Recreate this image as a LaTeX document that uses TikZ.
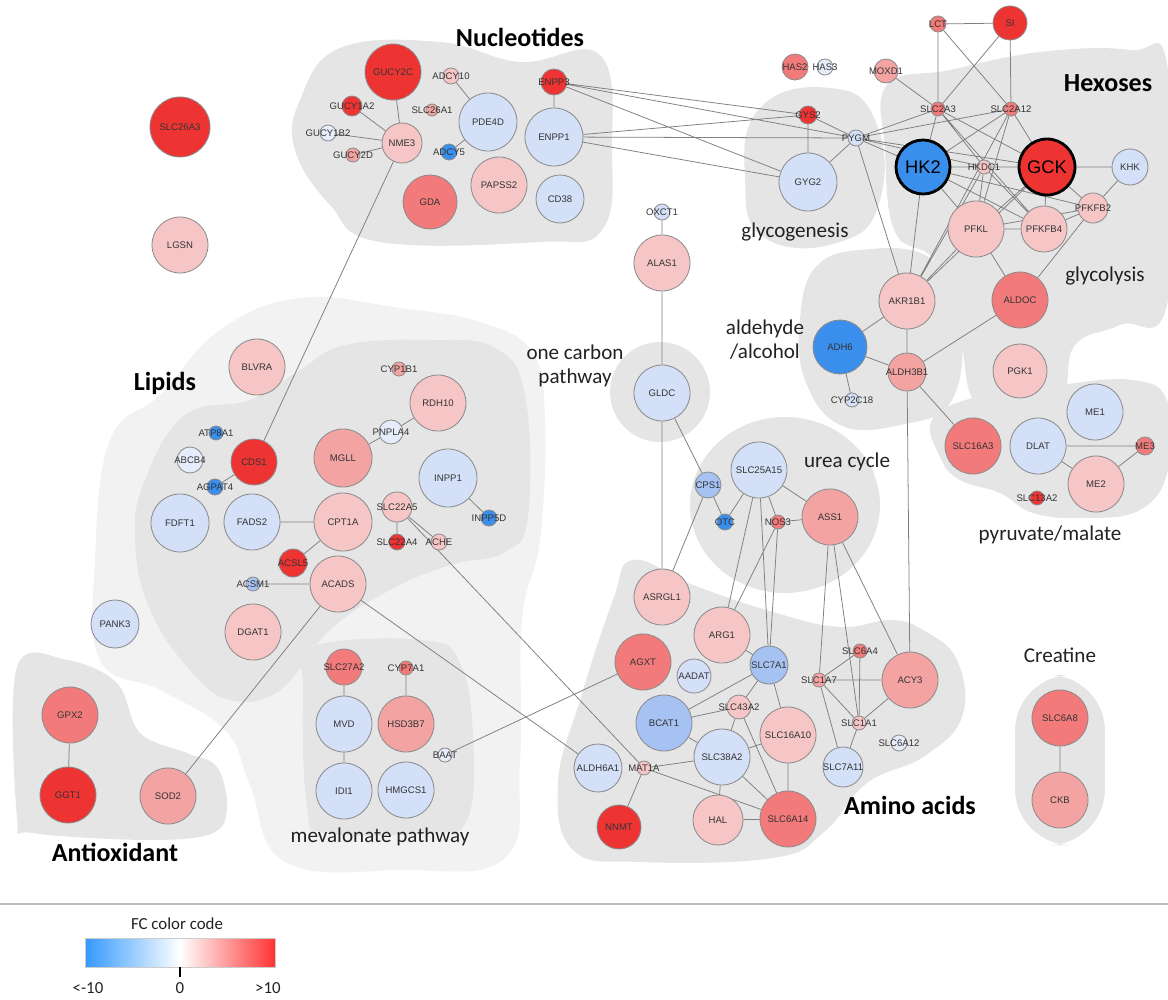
\documentclass[tikz,border=0pt]{standalone}
\usepackage{fontspec}
\setmainfont{Carlito}
\newfontfamily\genefont{Liberation Sans}
\usetikzlibrary{positioning, backgrounds}
\definecolor{upS}{HTML}{EE3333}
\definecolor{upM}{HTML}{F27A7A}
\definecolor{upML}{HTML}{F4A3A3}
\definecolor{upL}{HTML}{F6C6C6}
\definecolor{dnL}{HTML}{D4E0F7}
\definecolor{dnVL}{HTML}{E6EDFA}
\definecolor{dnM}{HTML}{A6C2F2}
\definecolor{dnS}{HTML}{3A8EEC}
\definecolor{blobGray}{HTML}{E5E5E5}
\definecolor{blobLight}{HTML}{F2F2F2}
\definecolor{legBlue}{HTML}{3399FF}
\definecolor{legRed}{HTML}{FF3333}
\definecolor{textDark}{HTML}{222222}
\pgfdeclarelayer{blobs}
\pgfdeclarelayer{links}
\pgfsetlayers{blobs,links,main}

\begin{document}
\begin{tikzpicture}[
    x=0.025cm, y=-0.025cm,
    gene/.style 2 args={circle, draw=black!45, line width=0.6pt, fill=#1,
                        minimum size=#2*0.5mm, inner sep=0pt, text=black!80,
                        font=\genefont\fontsize{6.8}{7}\selectfont,
                        execute at begin node={\hbox to 0pt\bgroup\hss},
                        execute at end node={\hss\egroup}},
    hub/.style={draw=black, line width=2pt, font=\genefont\fontsize{13}{14}\selectfont, text=black},
    edge/.style={draw=black!50, line width=0.55pt},
    blob/.style={fill=#1, draw=none},
    group/.style={font=\bfseries\fontsize{18.5}{20}\selectfont, text=black},
    path/.style={font=\fontsize{15}{17}\selectfont, text=textDark, align=center},
  ]
  \useasboundingbox (0,0) rectangle (1168,999);

  % grey areas behind the groups
  \begin{pgfonlayer}{blobs}
    \path[blob=blobLight] plot[smooth cycle, tension=0.7] coordinates {
      (110,440) (160,395) (220,330) (300,298) (400,308) (480,322) (532,352)
      (545,420) (540,540) (522,620) (520,760) (505,858) (400,870) (285,862)
      (250,785) (225,730) (160,690) (100,660) (95,560)};
    \path[blob=blobGray] plot[smooth cycle, tension=0.7] coordinates {
      (145,480) (185,415) (250,400) (300,370) (345,345) (430,340) (495,348)
      (525,395) (528,515) (505,552) (450,565) (390,590) (330,630) (280,690)
      (230,700) (190,670) (150,610) (135,540)};
    \path[blob=blobGray] plot[smooth cycle, tension=0.7] coordinates {
      (310,647) (423,640) (460,663) (473,737) (467,820) (427,833) (327,833)
      (307,807) (303,687)};
    \path[blob=blobGray] plot[smooth cycle, tension=0.7] coordinates {
      (300,100) (340,48) (440,42) (520,62) (600,55) (612,150) (602,230)
      (540,242) (380,242) (330,205) (295,150)};
    \path[blob=blobGray] plot[smooth cycle, tension=0.8] coordinates {
      (760,108) (830,88) (875,120) (880,200) (840,242) (765,238) (745,180)};
    \path[blob=blobGray] plot[smooth cycle, tension=0.7] coordinates {
      (887,85) (950,70) (1040,52) (1130,50) (1168,70) (1168,300) (1120,325)
      (1075,345) (1062,395) (1020,412) (975,402) (960,340) (935,262)
      (895,232) (885,150)};
    \path[blob=blobGray] plot[smooth cycle, tension=0.7] coordinates {
      (815,268) (860,250) (930,258) (960,320) (952,400) (900,425) (840,425)
      (805,380) (800,320)};
    \path[blob=blobGray] (660,392) circle[radius=50];
    \path[blob=blobGray] (785,505) ellipse[x radius=95, y radius=88];
    \path[blob=blobGray] plot[smooth cycle, tension=0.7] coordinates {
      (633,560) (693,585) (773,612) (840,627) (890,620) (923,630) (957,660)
      (962,717) (923,757) (867,783) (823,833) (773,858) (640,862) (573,850)
      (558,783) (580,700) (613,600)};
    \path[blob=blobGray] plot[smooth cycle, tension=0.7] coordinates {
      (933,418) (983,395) (1050,386) (1133,380) (1168,403) (1168,470)
      (1140,510) (1083,518) (1033,513) (1000,493) (960,480) (940,457)};
    \path[blob=blobGray, rounded corners=40] (1015,675) rectangle (1105,845);
    \path[blob=blobGray] plot[smooth cycle, tension=0.6] coordinates {
      (17,667) (67,660) (117,683) (140,733) (187,753) (217,767) (227,807)
      (213,833) (150,840) (33,833) (17,817)};
  \end{pgfonlayer}

  % nucleotides
  \node[gene={upS}{30}] (SLC26A3) at (180,127) {SLC26A3};
  \node[gene={upL}{28}] (LGSN) at (180,245) {LGSN};
  \node[gene={upS}{28}] (GUCY2C) at (393,72) {GUCY2C};
  \node[gene={upL}{8}] (ADCY10) at (451,76) {ADCY10};
  \node[gene={upS}{10}] (GUCY1A2) at (352,106) {GUCY1A2};
  \node[gene={upML}{6}] (SLC26A1) at (432,110) {SLC26A1};
  \node[gene={dnL}{29}] (PDE4D) at (488,122) {PDE4D};
  \node[gene={dnVL}{8}] (GUCY1B2) at (328,133) {GUCY1B2};
  \node[gene={upL}{20}] (NME3) at (402,143) {NME3};
  \node[gene={dnS}{8}] (ADCY5) at (449,152) {ADCY5};
  \node[gene={upML}{7}] (GUCY2D) at (353,155) {GUCY2D};
  \node[gene={upS}{13}] (ENPP3) at (554,82) {ENPP3};
  \node[gene={dnL}{29}] (ENPP1) at (554,137) {ENPP1};
  \node[gene={upM}{27}] (GDA) at (430,202) {GDA};
  \node[gene={upL}{28}] (PAPSS2) at (499,185) {PAPSS2};
  \node[gene={dnL}{24}] (CD38) at (560,199) {CD38};

  % glycogenesis
  \node[gene={upM}{13}] (HAS2) at (795,67) {HAS2};
  \node[gene={dnVL}{8}] (HAS3) at (825,67) {HAS3};
  \node[gene={upML}{12}] (MOXD1) at (886,71) {MOXD1};
  \node[gene={upS}{9}] (GYS2) at (808,115) {GYS2};
  \node[gene={dnL}{8}] (PYGM) at (856,138) {PYGM};
  \node[gene={dnL}{29}] (GYG2) at (808,182) {GYG2};

  % hexoses, glycolysis, aldehyde/alcohol
  \node[gene={upM}{8}] (LCT) at (938,24) {LCT};
  \node[gene={upS}{17}] (SI) at (1010,23) {SI};
  \node[gene={upM}{7}] (SLC2A3) at (938,109) {SLC2A3};
  \node[gene={upM}{7}] (SLC2A12) at (1011,109) {SLC2A12};
  \node[gene={dnS}{27}, hub] (HK2) at (923,167) {HK2};
  \node[gene={upL}{7}] (HKDC1) at (984,167) {HKDC1};
  \node[gene={upS}{28}, hub] (GCK) at (1047,167) {GCK};
  \node[gene={dnL}{18}] (KHK) at (1130,167) {KHK};
  \node[gene={upL}{15}] (PFKFB2) at (1093,208) {PFKFB2};
  \node[gene={upL}{28}] (PFKL) at (976,229) {PFKL};
  \node[gene={upL}{23}] (PFKFB4) at (1044,229) {PFKFB4};
  \node[gene={upL}{28}] (AKR1B1) at (907,301) {AKR1B1};
  \node[gene={upM}{28}] (ALDOC) at (1020,300) {ALDOC};
  \node[gene={dnS}{27}] (ADH6) at (840,347) {ADH6};
  \node[gene={upML}{19}] (ALDH3B1) at (907,372) {ALDH3B1};
  \node[gene={upL}{27}] (PGK1) at (1020,371) {PGK1};
  \node[gene={dnL}{7}] (CYP2C18) at (852,400) {CYP2C18};

  % one carbon pathway
  \node[gene={dnL}{8}] (OXCT1) at (662,212) {OXCT1};
  \node[gene={upL}{28}] (ALAS1) at (662,263) {ALAS1};
  \node[gene={dnL}{28}] (GLDC) at (662,393) {GLDC};

  % urea cycle
  \node[gene={dnL}{28}] (SLC25A15) at (759,470) {SLC25A15};
  \node[gene={dnM}{13}] (CPS1) at (708,485) {CPS1};
  \node[gene={dnS}{8}] (OTC) at (725,522) {OTC};
  \node[gene={upM}{7}] (NOS3) at (778,522) {NOS3};
  \node[gene={upML}{28}] (ASS1) at (830,517) {ASS1};

  % amino acids
  \node[gene={upL}{28}] (ASRGL1) at (662,597) {ASRGL1};
  \node[gene={upL}{28}] (ARG1) at (722,635) {ARG1};
  \node[gene={upM}{28}] (AGXT) at (643,662) {AGXT};
  \node[gene={dnL}{17}] (AADAT) at (694,676) {AADAT};
  \node[gene={dnM}{19}] (SLC7A1) at (769,665) {SLC7A1};
  \node[gene={upM}{7}] (SLC6A4) at (860,651) {SLC6A4};
  \node[gene={upML}{7}] (SLC1A7) at (819,680) {SLC1A7};
  \node[gene={upML}{28}] (ACY3) at (910,680) {ACY3};
  \node[gene={dnM}{28}] (BCAT1) at (664,723) {BCAT1};
  \node[gene={upL}{12}] (SLC43A2) at (739,707) {SLC43A2};
  \node[gene={upL}{28}] (SLC16A10) at (788,735) {SLC16A10};
  \node[gene={upL}{7}] (SLC1A1) at (859,723) {SLC1A1};
  \node[gene={dnVL}{8}] (SLC6A12) at (899,743) {SLC6A12};
  \node[gene={dnL}{28}] (SLC38A2) at (722,757) {SLC38A2};
  \node[gene={dnL}{20}] (SLC7A11) at (843,767) {SLC7A11};
  \node[gene={dnL}{24}] (ALDH6A1) at (598,768) {ALDH6A1};
  \node[gene={upL}{7}] (MAT1A) at (644,768) {MAT1A};
  \node[gene={upS}{22}] (NNMT) at (619,827) {NNMT};
  \node[gene={upL}{25}] (HAL) at (718,820) {HAL};
  \node[gene={upM}{28}] (SLC6A14) at (788,819) {SLC6A14};

  % lipids
  \node[gene={upL}{28}] (BLVRA) at (257,367) {BLVRA};
  \node[gene={dnS}{7}] (ATP8A1) at (216,433) {ATP8A1};
  \node[gene={dnVL}{13}] (ABCB4) at (190,460) {ABCB4};
  \node[gene={upS}{23}] (CDS1) at (254,462) {CDS1};
  \node[gene={dnS}{8}] (AGPAT4) at (215,487) {AGPAT4};
  \node[gene={dnL}{29}] (FDFT1) at (180,523) {FDFT1};
  \node[gene={dnL}{28}] (FADS2) at (252,522) {FADS2};
  \node[gene={upML}{7}] (CYP1B1) at (399,369) {CYP1B1};
  \node[gene={upL}{28}] (RDH10) at (438,403) {RDH10};
  \node[gene={dnVL}{12}] (PNPLA4) at (391,432) {PNPLA4};
  \node[gene={upML}{29}] (MGLL) at (343,458) {MGLL};
  \node[gene={dnL}{29}] (INPP1) at (448,478) {INPP1};
  \node[gene={dnS}{8}] (INPP5D) at (489,518) {INPP5D};
  \node[gene={upL}{29}] (CPT1A) at (343,522) {CPT1A};
  \node[gene={upL}{15}] (SLC22A5) at (397,507) {SLC22A5};
  \node[gene={upS}{8}] (SLC22A4) at (397,542) {SLC22A4};
  \node[gene={upL}{8}] (ACHE) at (439,542) {ACHE};
  \node[gene={upS}{14}] (ACSL5) at (293,563) {ACSL5};
  \node[gene={dnM}{7}] (ACSM1) at (253,584) {ACSM1};
  \node[gene={upL}{28}] (ACADS) at (338,584) {ACADS};
  \node[gene={upL}{28}] (DGAT1) at (253,632) {DGAT1};
  \node[gene={dnL}{24}] (PANK3) at (115,624) {PANK3};

  % mevalonate pathway
  \node[gene={upM}{18}] (SLC27A2) at (344,667) {SLC27A2};
  \node[gene={upM}{7}] (CYP7A1) at (406,668) {CYP7A1};
  \node[gene={dnL}{28}] (MVD) at (344,724) {MVD};
  \node[gene={upML}{28}] (HSD3B7) at (406,724) {HSD3B7};
  \node[gene={dnVL}{7}] (BAAT) at (445,755) {BAAT};
  \node[gene={dnL}{28}] (IDI1) at (344,791) {IDI1};
  \node[gene={dnL}{28}] (HMGCS1) at (406,790) {HMGCS1};

  % pyruvate/malate
  \node[gene={upM}{28}] (SLC16A3) at (973,446) {SLC16A3};
  \node[gene={dnL}{28}] (ME1) at (1095,412) {ME1};
  \node[gene={dnL}{28}] (DLAT) at (1038,446) {DLAT};
  \node[gene={upM}{9}] (ME3) at (1145,446) {ME3};
  \node[gene={upL}{28}] (ME2) at (1096,484) {ME2};
  \node[gene={upS}{7}] (SLC13A2) at (1037,498) {SLC13A2};

  % creatine, antioxidant
  \node[gene={upM}{28}] (SLC6A8) at (1060,718) {SLC6A8};
  \node[gene={upML}{28}] (CKB) at (1060,800) {CKB};
  \node[gene={upM}{28}] (GPX2) at (70,715) {GPX2};
  \node[gene={upS}{28}] (GGT1) at (68,795) {GGT1};
  \node[gene={upML}{28}] (SOD2) at (168,796) {SOD2};

  % group names
  \node[group] (tNucleo) at (520,37) {Nucleotides};
  \node[group] (tHexo) at (1108,83) {Hexoses};
  \node[group] (tLipid) at (165,383) {Lipids};
  \node[group] (tAmino) at (910,805) {Amino acids};
  \node[group] (tAnti) at (115,852) {Antioxidant};
  \node[path] (tGlycogen) at (795,232) {glycogenesis};
  \node[path] (tGlycol) at (1105,276) {glycolysis};
  \node[path] (tAldeh) at (765,340) {aldehyde\\/alcohol};
  \node[path] (tCarbon) at (575,366) {one carbon\\pathway};
  \node[path] (tUrea) at (847,462) {urea cycle};
  \node[path] (tPyr) at (1050,535) {pyruvate/malate};
  \node[path] (tCreat) at (1060,655) {Creatine};
  \node[path] (tMeva) at (380,837) {mevalonate pathway};

  % links
  \begin{pgfonlayer}{links}
    \draw[edge] (GUCY2C)--(NME3) (GUCY1A2)--(NME3) (GUCY1B2)--(NME3)
      (GUCY2D)--(NME3) (ADCY10)--(PDE4D) (ADCY5)--(PDE4D) (ENPP3)--(ENPP1)
      (NME3)--(CDS1);
    \draw[edge] (ENPP3)--(GYS2) (ENPP3)--(PYGM) (ENPP3)--(GYG2) (ENPP1)--(GYS2)
      (ENPP1)--(PYGM) (ENPP1)--(GYG2) (GYS2)--(GYG2) (GYS2)--(PYGM) (GYG2)--(PYGM);
    \draw[edge] (LCT)--(SI) (LCT)--(SLC2A3) (LCT)--(SLC2A12) (SI)--(SLC2A3)
      (SI)--(SLC2A12) (MOXD1)--(SLC2A3)
      (PYGM)--(SLC2A3) (PYGM)--(SLC2A12) (PYGM)--(HK2) (PYGM)--(HKDC1)
      (PYGM)--(GCK) (PYGM)--(AKR1B1)
      (SLC2A3)--(HK2) (SLC2A3)--(HKDC1) (SLC2A3)--(GCK) (SLC2A3)--(PFKFB4)
      (SLC2A12)--(HK2) (SLC2A12)--(GCK) (SLC2A12)--(PFKL) (SLC2A12)--(AKR1B1)
      (HK2)--(HKDC1) (HKDC1)--(GCK) (HK2)--(PFKL) (HK2)--(PFKFB4)
      (HK2)--(PFKFB2) (HK2)--(AKR1B1)
      (GCK)--(KHK) (GCK)--(PFKFB4) (GCK)--(PFKL) (GCK)--(PFKFB2) (GCK)--(AKR1B1)
      (HKDC1)--(PFKL) (HKDC1)--(PFKFB4) (HKDC1)--(AKR1B1)
      (KHK)--(PFKFB2) (PFKFB2)--(PFKFB4) (PFKFB2)--(PFKL) (PFKFB2)--(ALDOC)
      (PFKL)--(PFKFB4) (PFKL)--(ALDOC) (PFKL)--(AKR1B1)
      (AKR1B1)--(ALDH3B1) (AKR1B1)--(ADH6) (ADH6)--(ALDH3B1) (ADH6)--(CYP2C18)
      (ALDH3B1)--(ALDOC) (ALDH3B1)--(SLC16A3) (ALDH3B1)--(ACY3);
    \draw[edge] (OXCT1)--(ALAS1) (ALAS1)--(GLDC) (GLDC)--(ASRGL1) (GLDC)--(CPS1)
      (CPS1)--(OTC) (SLC25A15)--(OTC) (SLC25A15)--(ASS1) (SLC25A15)--(NOS3)
      (NOS3)--(ASS1) (CPS1)--(ASRGL1)
      (SLC25A15)--(ARG1) (SLC25A15)--(SLC7A1) (NOS3)--(ARG1) (NOS3)--(SLC7A1)
      (ASS1)--(SLC1A7) (ASS1)--(SLC1A1) (ASS1)--(ACY3);
    \draw[edge] (ARG1)--(SLC7A1) (SLC6A4)--(SLC1A7) (SLC6A4)--(SLC1A1)
      (SLC1A7)--(ACY3) (SLC1A7)--(SLC1A1) (SLC1A7)--(SLC7A11) (SLC1A1)--(ACY3)
      (SLC1A1)--(SLC7A11)
      (SLC7A1)--(BCAT1) (SLC7A1)--(SLC43A2) (SLC7A1)--(SLC16A10)
      (BCAT1)--(SLC43A2) (BCAT1)--(SLC38A2)
      (SLC43A2)--(SLC38A2) (SLC43A2)--(SLC6A14)
      (SLC16A10)--(SLC38A2) (SLC16A10)--(SLC6A14)
      (SLC38A2)--(MAT1A) (SLC38A2)--(HAL) (SLC38A2)--(SLC6A14)
      (MAT1A)--(NNMT) (MAT1A)--(SLC6A14) (HAL)--(SLC6A14)
      (ACADS)--(ALDH6A1) (SLC22A5)--(MAT1A) (AGXT)--(BAAT) (ACADS)--(SOD2);
    \draw[edge] (CDS1)--(AGPAT4) (FADS2)--(CPT1A) (ACSL5)--(CPT1A)
      (ACSM1)--(ACADS) (RDH10)--(PNPLA4) (PNPLA4)--(MGLL) (INPP1)--(INPP5D)
      (SLC22A5)--(SLC22A4) (SLC22A5)--(ACHE)
      (SLC27A2)--(MVD) (MVD)--(IDI1) (CYP7A1)--(HSD3B7)
      (DLAT)--(ME3) (DLAT)--(ME2) (ME2)--(ME3)
      (SLC6A8)--(CKB) (GPX2)--(GGT1);
  \end{pgfonlayer}

  % colour code
  \draw[black!25, line width=0.8pt] (0,904) -- (1168,904);
  \node[font=\fontsize{12}{13}\selectfont, text=textDark] (tCode) at (177,924) {FC color code};
  \shade[left color=legBlue, right color=legRed, middle color=white]
    (85,938) rectangle (275,967);
  \draw[black!20, line width=0.4pt] (85,938) rectangle (275,967);
  \draw[black, line width=1.5pt] (180,967) -- (180,977);
  \node[font=\fontsize{12}{13}\selectfont, text=textDark] (tLow) at (88,988) {<-10};
  \node[font=\fontsize{12}{13}\selectfont, text=textDark] (tZero) at (180,988) {0};
  \node[font=\fontsize{12}{13}\selectfont, text=textDark] (tHigh) at (268,988) {>10};
\end{tikzpicture}
\end{document}
